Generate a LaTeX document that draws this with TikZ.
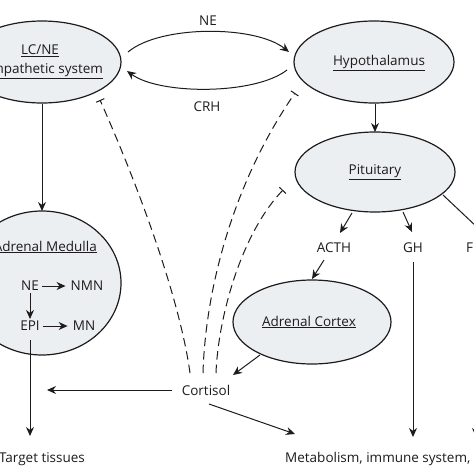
\documentclass[tikz,border=0pt]{standalone}
\usepackage{fontspec}
\setmainfont{Open Sans}
\usetikzlibrary{arrows.meta,shapes.geometric}
\definecolor{ink}{RGB}{30,27,28}
\definecolor{blob}{RGB}{236,239,241}
\begin{document}
\begin{tikzpicture}[x=1pt,y=-1pt,
  every node/.style={font=\fontsize{13.5}{19}\selectfont, text=ink},
  blobnode/.style={ellipse, draw=ink, fill=blob, line width=1.2pt, inner sep=0pt},
  arr/.style={draw=ink, line width=1pt, -{Stealth[length=9pt,width=8pt]}},
  inh/.style={draw=ink, line width=1pt, dash pattern=on 8.5pt off 5pt, -{Bar[width=9pt,line width=1pt]}},
  plainline/.style={draw=ink, line width=1pt},
  small/.style={inner sep=2pt}]
\useasboundingbox (0,0) rectangle (474,474);
\clip (0,0) rectangle (474,474);

% ellipses
\node[blobnode, minimum width=158pt, minimum height=82pt] (lc) at (42,62) {};
\node[align=center] (lctext) at (40,62) {\underline{LC/NE}\\\underline{Sympathetic system}};
\node[blobnode, minimum width=160pt, minimum height=82pt] (hyp) at (374,62) {};
\node (hyptext) at (379,63) {\underline{Hypothalamus}};
\node[blobnode, minimum width=160pt, minimum height=80pt] (pit) at (375,172) {};
\node (pittext) at (375,172) {\underline{Pituitary}};
\node[blobnode, minimum width=158pt, minimum height=144pt] (am) at (42,283) {};
\node[anchor=east, inner sep=0pt] (amtext) at (97,247) {\underline{Adrenal Medulla}};
\node[blobnode, minimum width=158pt, minimum height=84pt] (ac) at (312,322) {};
\node (actext) at (309,322) {\underline{Adrenal Cortex}};

% inner labels of adrenal medulla
\node[small] (ne2) at (30,286) {NE};
\node[small] (nmn) at (87,286) {NMN};
\node[small] (epi) at (30,326) {EPI};
\node[small] (mn) at (84,326) {MN};

% free labels
\node (nelab) at (208,21) {NE};
\node (crhlab) at (207,107) {CRH};
\node (acth) at (334,248) {ACTH};
\node (gh) at (413,248) {GH};
\node[anchor=west, inner sep=0pt] (flab) at (466,248) {F};
\node (cort) at (206,390) {Cortisol};
\node (tgt) at (42,459) {Target tissues};
\node[anchor=west, inner sep=0pt] (metab) at (285,459) {Metabolism, immune system,};

% connector end points
\coordinate (neS) at (128,52);
\coordinate (neE) at (289,52);
\coordinate (crhS) at (287,70);
\coordinate (crhE) at (127,71);
\coordinate (lcB) at (42,104);
\coordinate (amT) at (42,211);
\coordinate (hypB) at (375,104);
\coordinate (pitT) at (375,132);
\coordinate (pitA) at (352,213);
\coordinate (acthIn) at (340,233);
\coordinate (pitG) at (403,212);
\coordinate (ghIn) at (412,232);
\coordinate (pitR) at (443,195);
\coordinate (offR) at (478,228);
\coordinate (acthOut) at (324,260);
\coordinate (acIn) at (312,279);
\coordinate (ghOut) at (413,262);
\coordinate (ghEnd) at (413,437);
\coordinate (fOut) at (476,262);
\coordinate (fEnd) at (476,437);
\coordinate (acOut) at (260,355);
\coordinate (cortIn) at (233,375);
\coordinate (cortL) at (172,390);
\coordinate (tgtSide) at (47,390);
\coordinate (cortR) at (209,404);
\coordinate (metIn) at (295,434);
\coordinate (epiOut) at (30,340);
\coordinate (tgtIn) at (30,436);
\coordinate (c1) at (190,373);
\coordinate (c2) at (203,373);
\coordinate (c3) at (216,373);
\coordinate (bar1) at (100,100);
\coordinate (bar2) at (295,93);
\coordinate (bar3) at (283,190);

% connectors
\draw[arr] (neS) .. controls (160,25) and (255,25) .. (neE);
\draw[arr] (crhS) .. controls (255,95) and (160,95) .. (crhE);
\draw[arr] (lcB) -- (amT);
\draw[arr] (hypB) -- (pitT);
\draw[arr] (pitA) -- (acthIn);
\draw[arr] (pitG) -- (ghIn);
\draw[plainline] (pitR) -- (offR);
\draw[arr] (acthOut) -- (acIn);
\draw[arr] (ghOut) -- (ghEnd);
\draw[arr] (fOut) -- (fEnd);
\draw[arr] (acOut) -- (cortIn);
\draw[arr] (cortL) -- (tgtSide);
\draw[arr] (cortR) -- (metIn);
\draw[arr] (epiOut) -- (tgtIn);

\draw[arr, shorten <=1pt, shorten >=3pt] (ne2.east) -- (nmn.west);
\draw[arr, shorten <=1pt, shorten >=3pt] (epi.east) -- (mn.west);
\draw[arr] (ne2.south) -- (epi.north);

% inhibitory feedback
\draw[inh] (c1) .. controls (180,300) and (140,190) .. (bar1);
\draw[inh] (c2) .. controls (205,300) and (228,190) .. (bar2);
\draw[inh] (c3) .. controls (218,320) and (240,235) .. (bar3);
\end{tikzpicture}
\end{document}
